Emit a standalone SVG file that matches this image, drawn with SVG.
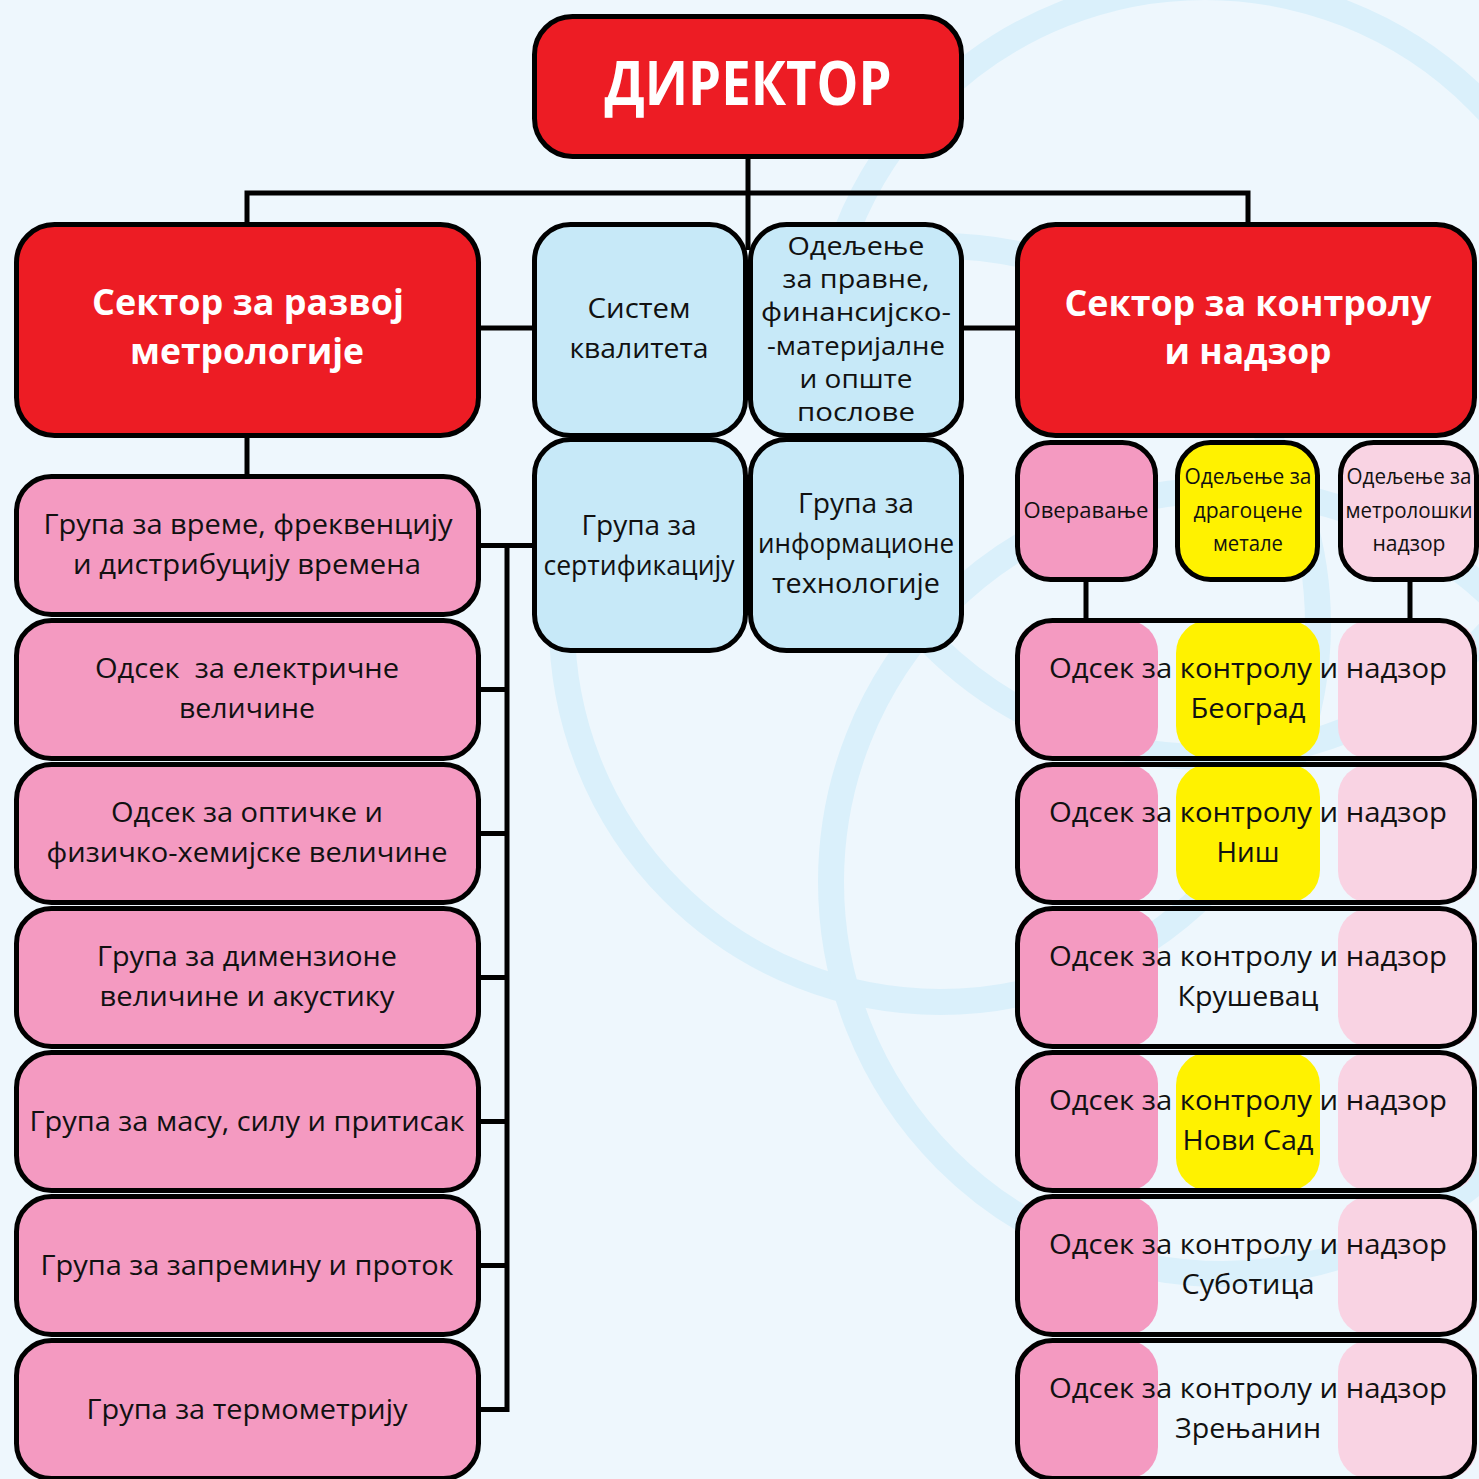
<svg xmlns="http://www.w3.org/2000/svg" width="1479" height="1479" viewBox="0 0 1479 1479">
<style>
.t{font-family:"Open Sans","Noto Sans","Liberation Sans",sans-serif;fill:#111;text-anchor:middle;font-size:28px}
.m{font-size:26px}
.s{font-size:21px}
.b{font-family:"Open Sans","Noto Sans","Liberation Sans",sans-serif;fill:#fff;font-weight:700;text-anchor:middle;font-size:35px}
.box{stroke:#000;stroke-width:5}
.red{fill:#ed1c24}
.pink{fill:#f49ac1}
.lpink{fill:#f9d3e3}
.yel{fill:#fff200}
.blue{fill:#c7e9f8}
.out{fill:none;stroke:#000;stroke-width:5}
.ring{fill:none;stroke:#daf0fb;stroke-width:26}
.con{fill:none;stroke:#000;stroke-width:5}
</style>
<rect width="1479" height="1479" fill="#eef7fd"/>
<g id="background-rings">
<circle class="ring" cx="940" cy="624" r="378"/>
<circle class="ring" cx="1223" cy="882" r="392"/>
<circle class="ring" cx="1205" cy="372" r="385"/>
</g>
<g id="connectors">
<path class="con" d="M748,159 V250"/>
<path class="con" d="M247,224 V193 H1248 V224"/>
<path class="con" d="M247,437 V476"/>
<path class="con" d="M481,328 H534"/>
<path class="con" d="M962,328 H1017"/>
<path class="con" d="M481,545.5 H534"/>
<path class="con" d="M507,545.5 V1409.5 H481"/>
<path class="con" d="M481,689.5 H507 M481,833.5 H507 M481,977.5 H507 M481,1121.5 H507 M481,1265.5 H507"/>
<path class="con" d="M1086,580 V620"/>
<path class="con" d="M1410,580 V620"/>
</g>
<g id="direktor">
<rect class="box red" x="534.5" y="16.5" width="427" height="140" rx="38"/>
<text class="b" x="748" y="105" style="font-size:60px" textLength="287" lengthAdjust="spacingAndGlyphs">ДИРЕКТОР</text>
</g>
<g id="sektor-razvoj">
<rect class="box red" x="16.5" y="224.5" width="462" height="211" rx="38"/>
<text class="b" x="248" y="315" textLength="312" lengthAdjust="spacingAndGlyphs">Сектор за развој</text>
<text class="b" x="247" y="364" textLength="234" lengthAdjust="spacingAndGlyphs">метрологије</text>
</g>
<g id="sistem-kvaliteta">
<rect class="box blue" x="534.5" y="224.5" width="211" height="211" rx="36"/>
<text class="t" x="639" y="318" textLength="103" lengthAdjust="spacingAndGlyphs">Систем</text>
<text class="t" x="639" y="358" textLength="139" lengthAdjust="spacingAndGlyphs">квалитета</text>
</g>
<g id="odeljenje-pravne">
<rect class="box blue" x="750.5" y="224.5" width="211" height="211" rx="36"/>
<text class="t m" x="856" y="255" textLength="137" lengthAdjust="spacingAndGlyphs">Одељење</text>
<text class="t m" x="856" y="288" textLength="147" lengthAdjust="spacingAndGlyphs">за правне,</text>
<text class="t m" x="856" y="321" textLength="190" lengthAdjust="spacingAndGlyphs">финансијско-</text>
<text class="t m" x="856" y="355" textLength="178" lengthAdjust="spacingAndGlyphs">-материјалне</text>
<text class="t m" x="856" y="388" textLength="113" lengthAdjust="spacingAndGlyphs">и опште</text>
<text class="t m" x="856" y="421" textLength="118" lengthAdjust="spacingAndGlyphs">послове</text>
</g>
<g id="grupa-sertifikacija">
<rect class="box blue" x="534.5" y="439.5" width="211" height="211" rx="36"/>
<text class="t" x="639" y="535" textLength="115" lengthAdjust="spacingAndGlyphs">Група за</text>
<text class="t" x="639" y="575" textLength="191" lengthAdjust="spacingAndGlyphs">сертификацију</text>
</g>
<g id="grupa-it">
<rect class="box blue" x="750.5" y="439.5" width="211" height="211" rx="36"/>
<text class="t" x="856" y="513" textLength="116" lengthAdjust="spacingAndGlyphs">Група за</text>
<text class="t" x="856" y="553" textLength="196" lengthAdjust="spacingAndGlyphs">информационе</text>
<text class="t" x="856" y="593" textLength="168" lengthAdjust="spacingAndGlyphs">технологије</text>
</g>
<g id="sektor-kontrola">
<rect class="box red" x="1017.5" y="224.5" width="457" height="211" rx="38"/>
<text class="b" x="1248" y="316" textLength="367" lengthAdjust="spacingAndGlyphs">Сектор за контролу</text>
<text class="b" x="1248" y="364" textLength="167" lengthAdjust="spacingAndGlyphs">и надзор</text>
</g>
<g id="overavanje">
<rect class="box pink" x="1017.5" y="442.5" width="138" height="137" rx="33"/>
<text class="t s" x="1086" y="518" textLength="125" lengthAdjust="spacingAndGlyphs">Оверавање</text>
</g>
<g id="odeljenje-dragocene">
<rect class="box yel" x="1177.5" y="442.5" width="140" height="137" rx="33"/>
<text class="t s" x="1248" y="484" textLength="127" lengthAdjust="spacingAndGlyphs">Одељење за</text>
<text class="t s" x="1248" y="518" textLength="109" lengthAdjust="spacingAndGlyphs">драгоцене</text>
<text class="t s" x="1248" y="551" textLength="70" lengthAdjust="spacingAndGlyphs">метале</text>
</g>
<g id="odeljenje-nadzor">
<rect class="box lpink" x="1340.5" y="442.5" width="136" height="137" rx="33"/>
<text class="t s" x="1409" y="484" textLength="125" lengthAdjust="spacingAndGlyphs">Одељење за</text>
<text class="t s" x="1409" y="518" textLength="127" lengthAdjust="spacingAndGlyphs">метролошки</text>
<text class="t s" x="1409" y="551" textLength="73" lengthAdjust="spacingAndGlyphs">надзор</text>
</g>
<g id="grupa-vreme">
<rect class="box pink" x="16.5" y="476.5" width="462" height="138" rx="35"/>
<text class="t" x="248" y="534" textLength="409" lengthAdjust="spacingAndGlyphs">Група за време, фреквенцију</text>
<text class="t" x="247" y="574" textLength="348" lengthAdjust="spacingAndGlyphs">и дистрибуцију времена</text>
</g>
<g id="odsek-elektricne">
<rect class="box pink" x="16.5" y="620.5" width="462" height="138" rx="35"/>
<text class="t" x="247" y="678" textLength="304" lengthAdjust="spacingAndGlyphs" xml:space="preserve">Одсек  за електричне</text>
<text class="t" x="247" y="718" textLength="136" lengthAdjust="spacingAndGlyphs">величине</text>
</g>
<g id="odsek-opticke">
<rect class="box pink" x="16.5" y="764.5" width="462" height="138" rx="35"/>
<text class="t" x="247" y="822" textLength="272" lengthAdjust="spacingAndGlyphs">Одсек за оптичке и</text>
<text class="t" x="247" y="862" textLength="401" lengthAdjust="spacingAndGlyphs">физичко-хемијске величине</text>
</g>
<g id="grupa-dimenzione">
<rect class="box pink" x="16.5" y="908.5" width="462" height="138" rx="35"/>
<text class="t" x="247" y="966" textLength="300" lengthAdjust="spacingAndGlyphs">Група за димензионе</text>
<text class="t" x="247" y="1006" textLength="295" lengthAdjust="spacingAndGlyphs">величине и акустику</text>
</g>
<g id="grupa-masa">
<rect class="box pink" x="16.5" y="1052.5" width="462" height="138" rx="35"/>
<text class="t" x="247" y="1131" textLength="435" lengthAdjust="spacingAndGlyphs">Група за масу, силу и притисак</text>
</g>
<g id="grupa-zapremina">
<rect class="box pink" x="16.5" y="1196.5" width="462" height="138" rx="35"/>
<text class="t" x="247" y="1275" textLength="413" lengthAdjust="spacingAndGlyphs">Група за запремину и проток</text>
</g>
<g id="grupa-termometrija">
<rect class="box pink" x="16.5" y="1340.5" width="462" height="138" rx="35"/>
<text class="t" x="247" y="1419" textLength="321" lengthAdjust="spacingAndGlyphs">Група за термометрију</text>
</g>
<g id="odsek-beograd">
<rect class="pink" x="1016" y="620" width="142" height="139" rx="32"/>
<rect class="yel" x="1176" y="620" width="144" height="139" rx="33"/>
<rect class="lpink" x="1338" y="620" width="139" height="139" rx="32"/>
<rect class="out" x="1017.5" y="620.5" width="457" height="138" rx="35"/>
<text class="t" x="1248" y="678" textLength="398" lengthAdjust="spacingAndGlyphs">Одсек за контролу и надзор</text>
<text class="t" x="1248" y="718" textLength="115" lengthAdjust="spacingAndGlyphs">Београд</text>
</g>
<g id="odsek-nis">
<rect class="pink" x="1016" y="764" width="142" height="139" rx="32"/>
<rect class="yel" x="1176" y="764" width="144" height="139" rx="33"/>
<rect class="lpink" x="1338" y="764" width="139" height="139" rx="32"/>
<rect class="out" x="1017.5" y="764.5" width="457" height="138" rx="35"/>
<text class="t" x="1248" y="822" textLength="398" lengthAdjust="spacingAndGlyphs">Одсек за контролу и надзор</text>
<text class="t" x="1248" y="862" textLength="63" lengthAdjust="spacingAndGlyphs">Ниш</text>
</g>
<g id="odsek-krusevac">
<rect class="pink" x="1016" y="908" width="142" height="139" rx="32"/>
<rect class="lpink" x="1338" y="908" width="139" height="139" rx="32"/>
<rect class="out" x="1017.5" y="908.5" width="457" height="138" rx="35"/>
<text class="t" x="1248" y="966" textLength="398" lengthAdjust="spacingAndGlyphs">Одсек за контролу и надзор</text>
<text class="t" x="1248" y="1006" textLength="141" lengthAdjust="spacingAndGlyphs">Крушевац</text>
</g>
<g id="odsek-novi-sad">
<rect class="pink" x="1016" y="1052" width="142" height="139" rx="32"/>
<rect class="yel" x="1176" y="1052" width="144" height="139" rx="33"/>
<rect class="lpink" x="1338" y="1052" width="139" height="139" rx="32"/>
<rect class="out" x="1017.5" y="1052.5" width="457" height="138" rx="35"/>
<text class="t" x="1248" y="1110" textLength="398" lengthAdjust="spacingAndGlyphs">Одсек за контролу и надзор</text>
<text class="t" x="1248" y="1150" textLength="131" lengthAdjust="spacingAndGlyphs">Нови Сад</text>
</g>
<g id="odsek-subotica">
<rect class="pink" x="1016" y="1196" width="142" height="139" rx="32"/>
<rect class="lpink" x="1338" y="1196" width="139" height="139" rx="32"/>
<rect class="out" x="1017.5" y="1196.5" width="457" height="138" rx="35"/>
<text class="t" x="1248" y="1254" textLength="398" lengthAdjust="spacingAndGlyphs">Одсек за контролу и надзор</text>
<text class="t" x="1248" y="1294" textLength="133" lengthAdjust="spacingAndGlyphs">Суботица</text>
</g>
<g id="odsek-zrenjanin">
<rect class="pink" x="1016" y="1340" width="142" height="139" rx="32"/>
<rect class="lpink" x="1338" y="1340" width="139" height="139" rx="32"/>
<rect class="out" x="1017.5" y="1340.5" width="457" height="138" rx="35"/>
<text class="t" x="1248" y="1398" textLength="398" lengthAdjust="spacingAndGlyphs">Одсек за контролу и надзор</text>
<text class="t" x="1248" y="1438" textLength="146" lengthAdjust="spacingAndGlyphs">Зрењанин</text>
</g>
</svg>
